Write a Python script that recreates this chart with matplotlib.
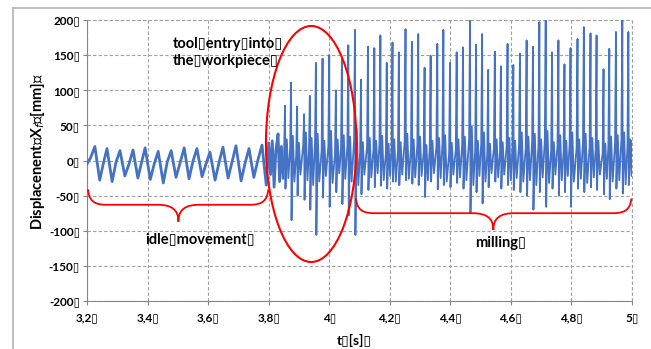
import matplotlib
matplotlib.use('Agg')
import matplotlib.pyplot as plt
from matplotlib.patches import Ellipse, PathPatch
from matplotlib.path import Path
from matplotlib.lines import Line2D

plt.rcParams['font.family'] = ['Lato', 'DejaVu Sans']

B = '\u25af'  # the box glyph that shows up after every label in the original

# idle movement (before the tool touches the workpiece)
idle_t = [3.200, 3.212, 3.226, 3.242, 3.254, 3.266, 3.283, 3.296, 3.309, 3.325, 3.338,
          3.352, 3.368, 3.380, 3.392, 3.409, 3.422, 3.435, 3.452, 3.465, 3.478, 3.494,
          3.507, 3.521, 3.537, 3.550, 3.563, 3.580, 3.593, 3.606, 3.623, 3.636, 3.649,
          3.666, 3.679, 3.692, 3.709, 3.722, 3.735, 3.751, 3.764, 3.778, 3.792, 3.800,
          3.806, 3.812, 3.818, 3.824, 3.831, 3.836, 3.842, 3.848]
idle_x = [-5, 4, 20, -28, -4, 17, -30, -2, 14, -22, -6,
          15, -25, -3, 18, -27, -5, 13, -32, -2, 14, -24,
          -4, 18, -26, -1, 17, -23, -5, 12, -28, -3, 19,
          -25, -2, 21, -29, -4, 17, -24, 0, 22, -35, 25,
          -20, 28, -38, 15, 38, -30, 20, -25]

# milling: one spike per tooth pass
spike_t = [3.854, 3.874, 3.894, 3.917, 3.936, 3.956, 3.978, 4.000, 4.022, 4.042, 4.063,
           4.085, 4.105, 4.128, 4.149, 4.169, 4.190, 4.209, 4.230, 4.252, 4.273, 4.294,
           4.315, 4.335, 4.357, 4.377, 4.399, 4.421, 4.442, 4.465, 4.485, 4.505, 4.525,
           4.547, 4.567, 4.589, 4.608, 4.630, 4.652, 4.673, 4.694, 4.715, 4.736, 4.757,
           4.777, 4.797, 4.820, 4.841, 4.863, 4.883, 4.906, 4.925, 4.947, 4.968, 4.988]
spike_top = [78, 111, 77, 66, 92, 139, 145, 150, 100, 147, 164,
             186, 115, 162, 160, 178, 139, 168, 154, 187, 169, 180,
             132, 149, 166, 186, 139, 154, 161, 200, 165, 180, 129,
             155, 134, 166, 136, 152, 171, 162, 197, 200, 154, 171,
             137, 160, 173, 190, 181, 178, 130, 159, 183, 200, 183]
spike_low = [-40, -85, -50, -56, -70, -106, -53, -66, -45, -62, -78,
             -106, -48, -42, -38, -36, -40, -30, -35, -28, -33, -35,
             -52, -30, -41, -35, -38, -32, -40, -75, -45, -61, -38,
             -30, -40, -35, -42, -45, -50, -70, -45, -66, -40, -50,
             -45, -66, -40, -45, -38, -42, -48, -55, -40, -47, -35]
base_pre = [10, 18, 8, 22, 12, 25, 15, 20, 8, 18, 22,
            28, 12, 20, 15, 24, 10, 18, 14, 26, 16, 22,
            12, 18, 20, 25, 10, 16, 22, 30, 14, 24, 10,
            18, 12, 20, 15, 22, 18, 26, 20, 28, 14, 22,
            12, 24, 18, 26, 20, 16, 10, 22, 24, 30, 20]
base_hi = [30, 35, 25, 40, 32, 38, 28, 42, 30, 36, 34,
           45, 26, 32, 28, 35, 24, 30, 26, 38, 30, 34,
           22, 28, 32, 36, 25, 30, 34, 48, 28, 40, 24,
           30, 26, 32, 28, 40, 34, 38, 30, 42, 26, 36,
           28, 40, 30, 38, 32, 28, 24, 34, 36, 40, 30]
base_lo = [-25, -30, -20, -28, -35, -30, -22, -32, -18, -26, -30,
           -35, -20, -24, -18, -28, -22, -30, -20, -26, -24, -22,
           -28, -18, -25, -30, -20, -24, -28, -35, -22, -30, -18,
           -24, -20, -28, -25, -30, -28, -35, -24, -32, -20, -28,
           -22, -30, -26, -32, -24, -20, -26, -30, -28, -34, -22]
end_t, end_x = 5.0, 28

xtick_vals = [3.2, 3.4, 3.6, 3.8, 4.0, 4.2, 4.4, 4.6, 4.8, 5.0]
xtick_labels = ['3,2', '3,4', '3,6', '3,8', '4', '4,2', '4,4', '4,6', '4,8', '5']
ytick_vals = [200, 150, 100, 50, 0, -50, -100, -150, -200]

# build the milling trace from the spike lists
mill_t, mill_x = [], []
for i in range(len(spike_t)):
    ts = spike_t[i]
    mill_t += [ts - 0.003, ts, ts + 0.0015, ts + 0.006, ts + 0.011]
    mill_x += [base_pre[i], spike_top[i], spike_low[i], base_hi[i], base_lo[i]]
mill_t.append(end_t)
mill_x.append(end_x)

fig = plt.figure(figsize=(6.51, 3.49), dpi=100)
ax = fig.add_axes([87/651, 1 - 301/349, 545/651, 281/349])

blue = '#4472c4'
ax.plot(idle_t, idle_x, color=blue, lw=2.0, zorder=3)
ax.plot([idle_t[-1]] + mill_t, [idle_x[-1]] + mill_x, color=blue, lw=1.3, zorder=3)

ax.set_xlim(3.2, 5.0)
ax.set_ylim(-200, 200)
ax.set_xticks(xtick_vals)
ax.set_xticklabels([s + B for s in xtick_labels])
ax.set_yticks(ytick_vals)
ax.set_yticklabels([str(v) + B for v in ytick_vals])
for lab in ax.get_xticklabels() + ax.get_yticklabels():
    lab.set_fontweight('bold')
ax.tick_params(direction='out', length=3, width=0.8, color='#868686', labelsize=8.5, pad=2)
ax.tick_params(axis='x', pad=5)

ax.grid(True, color='#a0a0a0', linestyle=(0, (3, 2)), lw=0.8)
ax.set_axisbelow(True)
for s in ['top', 'right']:
    ax.spines[s].set_visible(False)
for s in ['left', 'bottom']:
    ax.spines[s].set_color('#868686')
    ax.spines[s].set_linewidth(0.8)
ax.axhline(200, color='#a0a0a0', linestyle=(0, (3, 2)), lw=0.8, clip_on=False)
ax.axvline(5.0, color='#a0a0a0', linestyle=(0, (3, 2)), lw=0.8, clip_on=False)

# red annotations
red = '#ff0000'
ax.add_patch(Ellipse((3.9405, 23.5), 0.299, 336, fill=False, edgecolor=red, lw=1.5,
                     zorder=5, clip_on=False))


def brace(x0, x1, ye, yh, ytip, xm, r=0.06, rc=0.07):
    verts = [(x0, ye),
             (x0 + 0.004, yh + (ye - yh) * 0.3), (x0 + r * 0.3, yh), (x0 + r, yh),
             (xm - rc, yh),
             (xm - rc * 0.3, yh), (xm, yh + (ytip - yh) * 0.3), (xm, ytip),
             (xm, yh + (ytip - yh) * 0.3), (xm + rc * 0.3, yh), (xm + rc, yh),
             (x1 - r, yh),
             (x1 - r * 0.3, yh), (x1 - 0.004, yh + (ye - yh) * 0.3), (x1, ye)]
    C = Path.CURVE4
    codes = [Path.MOVETO, C, C, C, Path.LINETO, C, C, C, C, C, C, Path.LINETO, C, C, C]
    ax.add_patch(PathPatch(Path(verts, codes), fill=False, edgecolor=red, lw=1.3,
                           zorder=5, clip_on=False))


brace(3.203, 3.799, -41, -63, -87, 3.502)
brace(4.088, 4.998, -54, -75, -99, 4.542)

ax.text(3.484, 153.5, 'tool' + B + 'entry' + B + 'into' + B + '\nthe' + B + 'workpiece' + B,
        fontsize=10.5, fontweight='bold', ha='left', va='center', linespacing=1.3, zorder=6)
ax.text(3.572, -112, 'idle' + B + 'movement' + B, fontsize=10.5, fontweight='bold',
        ha='center', va='center', zorder=6)
ax.text(4.566, -117, 'milling' + B, fontsize=10.5, fontweight='bold',
        ha='center', va='center', zorder=6)

fig.text(37.5/651, 1 - 151/349, 'Displacenent' + B + 'X$_f$' + B + '[mm]' + B,
         rotation=90, ha='center', va='center', fontsize=10.5, fontweight='bold')
fig.text(354.5/651, 1 - 340/349, 't' + B + '[s]' + B, ha='center', va='center',
         fontsize=10, fontweight='bold')

# outer chart frame
frame = '#b4b4b4'
fig.add_artist(Line2D([13/651, 13/651], [0, 1 - 8/349], transform=fig.transFigure,
                      color=frame, lw=1.2))
fig.add_artist(Line2D([13/651, 1], [1 - 8/349, 1 - 8/349], transform=fig.transFigure,
                      color=frame, lw=1.2))

fig.savefig('out.png', dpi=100)
